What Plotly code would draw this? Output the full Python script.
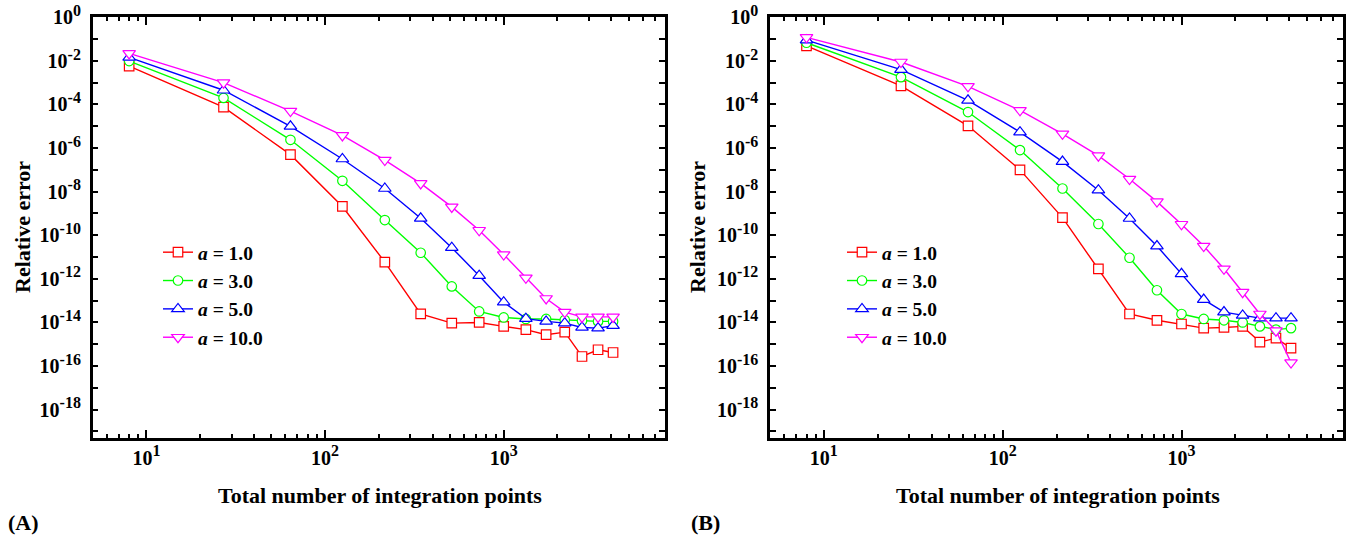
import plotly.graph_objects as go

# Total number of integration points (x)
n_points = [8, 27, 64, 125, 216, 343, 512, 729, 1000, 1331, 1728, 2197, 2744, 3375, 4096]

series_names = ["<i>a</i> = 1.0", "<i>a</i> = 3.0", "<i>a</i> = 5.0", "<i>a</i> = 10.0"]
series_colors = ["#ff0000", "#00ff00", "#0000ff", "#ff00ff"]
series_symbols = ["square", "circle", "triangle-up", "triangle-down"]

# Panel (A) relative errors
err_A_a1 = [5.75e-3, 7.6e-5, 5.0e-7, 2.1e-9, 5.9e-12, 2.5e-14, 9.3e-15, 1.0e-14, 6.6e-15, 4.7e-15,
            2.75e-15, 3.6e-15, 2.75e-16, 5.6e-16, 4.2e-16]
err_A_a3 = [9.8e-3, 2.0e-4, 2.4e-6, 3.16e-8, 5.0e-10, 1.58e-11, 4.5e-13, 3.2e-14, 1.7e-14, 1.45e-14,
            1.45e-14, 1.3e-14, 1.2e-14, 1.12e-14, 1.12e-14]
err_A_a5 = [1.45e-2, 4.5e-4, 1.0e-5, 3.16e-7, 1.4e-8, 6.0e-10, 2.7e-11, 1.4e-12, 8.5e-14, 1.5e-14,
            1.12e-14, 9.3e-15, 5.9e-15, 5.5e-15, 7.1e-15]
err_A_a10 = [2.2e-2, 1.0e-3, 5.0e-5, 3.8e-6, 2.8e-7, 2.4e-8, 2.0e-9, 1.7e-10, 1.3e-11, 1.12e-12,
             1.26e-13, 3.0e-14, 1.8e-14, 1.8e-14, 1.8e-14]

# Panel (B) relative errors
err_B_a1 = [4.9e-2, 7.1e-4, 1.05e-5, 1.0e-7, 6.5e-10, 2.9e-12, 2.45e-14, 1.26e-14, 8.5e-15, 5.5e-15,
            5.9e-15, 6.6e-15, 1.26e-15, 1.9e-15, 6.6e-16]
err_B_a3 = [6.8e-2, 1.8e-3, 4.5e-5, 8.1e-7, 1.4e-8, 3.3e-10, 9.3e-12, 3.0e-13, 2.45e-14, 1.45e-14,
            1.26e-14, 1.0e-14, 6.6e-15, 4.7e-15, 5.5e-15]
err_B_a5 = [8.9e-2, 4.0e-3, 1.55e-4, 5.4e-6, 2.4e-7, 1.17e-8, 5.9e-10, 3.2e-11, 1.7e-12, 1.12e-13,
            3.0e-14, 2.1e-14, 1.58e-14, 1.58e-14, 1.58e-14]
err_B_a10 = [1.2e-1, 8.9e-3, 6.8e-4, 5.4e-5, 4.5e-6, 4.5e-7, 3.8e-8, 3.5e-9, 3.2e-10, 3.2e-11,
             2.9e-12, 2.45e-13, 2.45e-14, 4.2e-15, 1.45e-16]

x_major_ticks = [10, 100, 1000]
x_major_exp = [1, 2, 3]
x_minor_ticks = [6, 7, 8, 9, 20, 30, 40, 50, 60, 70, 80, 90,
                 200, 300, 400, 500, 600, 700, 800, 900, 2000, 3000, 4000, 5000, 6000, 7000]
y_major_exp = [0, -2, -4, -6, -8, -10, -12, -14, -16, -18]
y_minor_exp = [-1, -3, -5, -7, -9, -11, -13, -15, -17, -19]

FONT = "Liberation Serif"
W, H = 1353, 541
SUP = '10<sup><span style="font-size:16px">%d</span></sup>'

def px(xp):
    return xp / W

def py(yp):
    return 1 - yp / H

fig = go.Figure()

panels = [
    ("x", "y", "legend", [err_A_a1, err_A_a3, err_A_a5, err_A_a10]),
    ("x2", "y2", "legend2", [err_B_a1, err_B_a3, err_B_a5, err_B_a10]),
]
for xa, ya, lg, errs in panels:
    for name, col, sym, err in zip(series_names, series_colors, series_symbols, errs):
        fig.add_trace(go.Scatter(
            x=n_points, y=err, mode="lines+markers", name=name,
            xaxis=xa, yaxis=ya, legend=lg,
            line=dict(color=col, width=1.4),
            marker=dict(symbol=sym, size=11 if "triangle" in sym else 9.5,
                        color="white", line=dict(color=col, width=1.2)),
        ))

common_x = dict(
    type="log", range=[0.69897, 3.90309], automargin=False,
    tickmode="array", tickvals=x_major_ticks, ticktext=[SUP % e for e in x_major_exp],
    ticks="inside", ticklen=8, tickwidth=1.5, tickcolor="black",
    minor=dict(tickmode="array", tickvals=x_minor_ticks, ticks="inside", ticklen=4,
               tickwidth=1.5, tickcolor="black", showgrid=False),
    showline=True, linecolor="black", linewidth=2.5, mirror="ticks",
    showgrid=False, zeroline=False,
    tickfont=dict(family=FONT, size=20, color="black", weight="bold"),
    ticklabelstandoff=0,
)
common_y = dict(
    type="log", range=[-19.3, 0], automargin=False,
    tickmode="array", tickvals=[10.0 ** e for e in y_major_exp],
    ticktext=[SUP % e for e in y_major_exp],
    ticks="inside", ticklen=6, tickwidth=1.5, tickcolor="black",
    minor=dict(tickmode="array", tickvals=[10.0 ** e for e in y_minor_exp], ticks="inside",
               ticklen=6, tickwidth=1.5, tickcolor="black", showgrid=False),
    showline=True, linecolor="black", linewidth=2.5, mirror="ticks",
    showgrid=False, zeroline=False,
    tickfont=dict(family=FONT, size=20, color="black", weight="bold"),
    ticklabelstandoff=5,
    domain=[py(438), py(17.3)],
)

legend_common = dict(xanchor="left", yanchor="top", bgcolor="rgba(0,0,0,0)",
                     tracegroupgap=0, borderwidth=0,
                     font=dict(family=FONT, size=19.5, color="black", weight="bold"))

fig.update_layout(
    width=W, height=H,
    margin=dict(l=0, r=0, t=0, b=0, autoexpand=False),
    paper_bgcolor="white", plot_bgcolor="white",
    xaxis=dict(common_x, domain=[px(92.7), px(665)], anchor="y"),
    yaxis=dict(common_y, anchor="x"),
    xaxis2=dict(common_x, domain=[px(770), px(1343)], anchor="y2"),
    yaxis2=dict(common_y, anchor="x2"),
    legend=dict(legend_common, x=px(158), y=py(233)),
    legend2=dict(legend_common, x=px(842), y=py(233)),
    showlegend=True,
)

title_font = dict(family=FONT, size=22, color="black", weight="bold")
annots = [
    dict(text="Relative error", x=px(22), y=py(227), textangle=-90),
    dict(text="Relative error", x=px(697), y=py(227), textangle=-90),
    dict(text="Total number of integration points", x=px(380), y=py(495)),
    dict(text="Total number of integration points", x=px(1058), y=py(495)),
    dict(text="(A)", x=px(23), y=py(522)),
    dict(text="(B)", x=px(705), y=py(522)),
]
for a in annots:
    fig.add_annotation(xref="paper", yref="paper", showarrow=False,
                       xanchor="center", yanchor="middle", font=title_font, **a)

fig.write_html("out.html", config={"displayModeBar": False},
               post_script="document.body.style.margin='0px';")
